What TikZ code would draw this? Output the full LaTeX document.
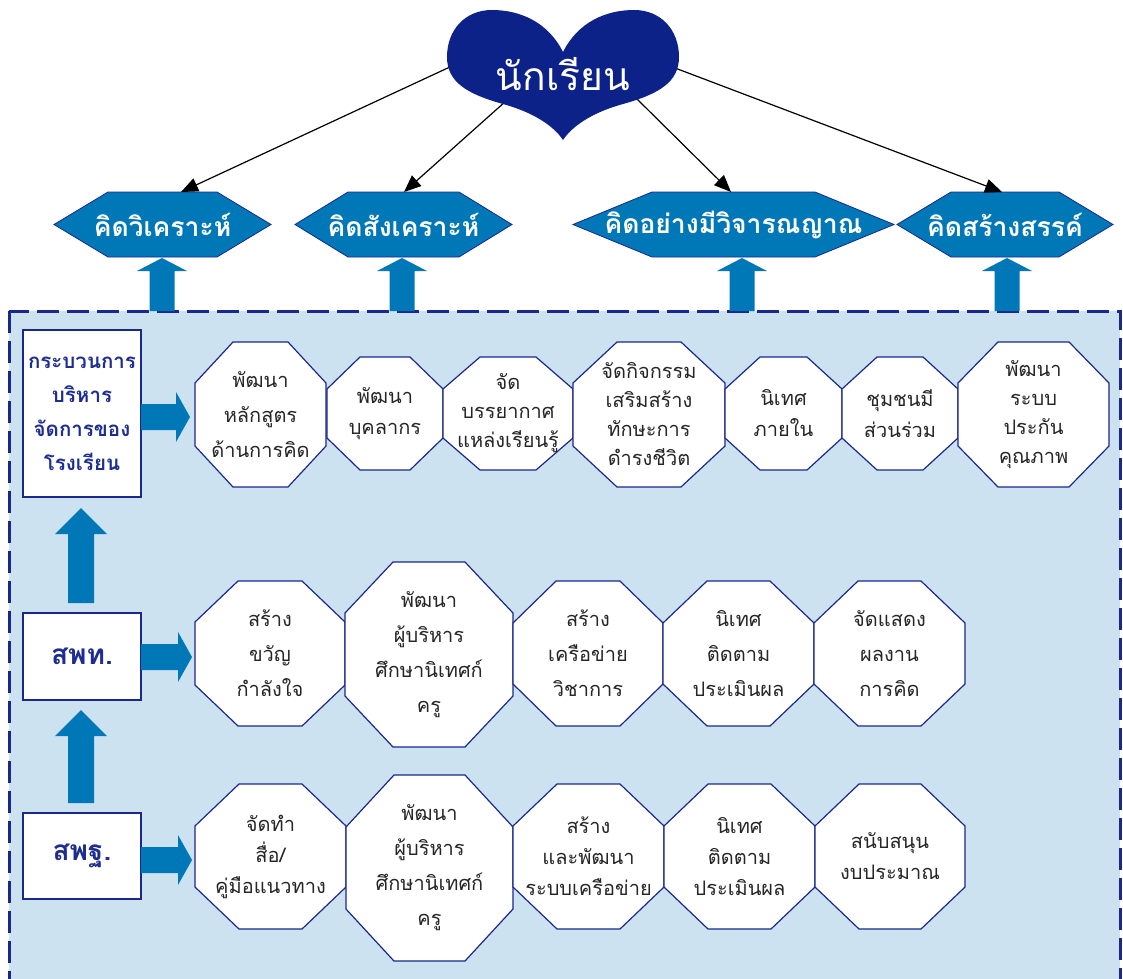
\documentclass[tikz,border=0pt]{standalone}
\usepackage{fontspec}
\newfontfamily\thai[Script=Thai]{Loma}
\usetikzlibrary{arrows.meta}
\definecolor{heartnavy}{RGB}{12,34,136}
\definecolor{hexblue}{RGB}{0,119,182}
\definecolor{panel}{RGB}{205,226,240}
\definecolor{navy}{RGB}{26,40,140}
\definecolor{boxtext}{RGB}{30,45,145}
\tikzset{
  octbox/.style={draw=navy, line width=1.2pt, fill=white},
  octtext/.style={font=\thai\fontsize{20}{31}\selectfont, align=center, text=black!85, inner sep=0pt},
  octtextiv/.style={font=\thai\fontsize{20}{29}\selectfont, align=center, text=black!85, inner sep=0pt},
  octtextw/.style={font=\thai\fontsize{20}{35}\selectfont, align=center, text=black!85, inner sep=0pt},
  hexbox/.style={draw=navy, line width=0.8pt, fill=hexblue},
  hextext/.style={font=\thai\bfseries\fontsize{26.5}{30}\selectfont, text=white, inner sep=0pt},
  lbox/.style={draw=navy, line width=1.2pt, fill=white, inner sep=0pt, align=center, text=boxtext},
  fat/.style={fill=hexblue},
  link/.style={draw=black, line width=1.2pt, -{Triangle[length=17pt,width=14pt]}},
  panelbox/.style={fill=panel, draw=navy, line width=3pt, dash pattern=on 22pt off 8pt},
}
\newcommand\octa[9]{%
  \draw[octbox] (#2+#6,#4) -- (#3-#6,#4) -- (#3,#4+#7) -- (#3,#5-#7) -- (#3-#6,#5) -- (#2+#6,#5) -- (#2,#5-#7) -- (#2,#4+#7) -- cycle;
  \node[#8] (#1) at ({(#2+#3)/2},{(#4+#5)/2}) {#9};}
\newcommand\hexa[5]{%
  \draw[hexbox] (#2,224.5) -- (#2+#4,192) -- (#3-#4,192) -- (#3,224.5) -- (#3-#4,257) -- (#2+#4,257) -- cycle;
  \node[hextext] (#1) at ({(#2+#3)/2},224.5) {#5};}
\newcommand\fatup[6]{%
  \fill[fat] (#1-#6,#3) -- (#1-#6,#2+#4) -- (#1-#5,#2+#4) -- (#1,#2) -- (#1+#5,#2+#4) -- (#1+#6,#2+#4) -- (#1+#6,#3) -- cycle;}
\newcommand\fatright[3]{%
  \fill[fat] (#1,#3-13) -- (#2-14,#3-13) -- (#2-14,#3-25) -- (#2,#3) -- (#2-14,#3+25) -- (#2-14,#3+13) -- (#1,#3+13) -- cycle;}
\begin{document}
\begin{tikzpicture}[x=1pt,y=-1pt]
\useasboundingbox (0,0) rectangle (1123,978);
\begin{scope}
  \clip (0,0) rectangle (1123,978);
  \path[panelbox] (9,311) rectangle (1120,1010);
\end{scope}
% up arrows to thinking hexagons
\fatup{162}{258}{311}{13}{25}{12.5}
\fatup{402}{258}{311}{13}{25}{12.5}
\fatup{742}{258}{311}{13}{25}{12.5}
\fatup{1007}{258}{311}{13}{25}{12.5}
% hexagons
\hexa{k1}{54}{271}{54}{คิดวิเคราะห์}
\hexa{k2}{295}{512}{53}{คิดสังเคราะห์}
\hexa{k3}{573}{894}{79}{คิดอย่างมีวิจารณญาณ}
\hexa{k4}{897}{1113}{54}{คิดสร้างสรรค์}
% connectors from the heart
\coordinate (h1) at (452,66);
\coordinate (h2) at (506,101);
\coordinate (h3) at (637,99);
\coordinate (h4) at (675,68);
\coordinate (t1) at (181,192);
\coordinate (t2) at (404,192);
\coordinate (t3) at (731,192);
\coordinate (t4) at (1002,192);
\draw[link] (h1) -- (t1);
\draw[link] (h2) -- (t2);
\draw[link] (h3) -- (t3);
\draw[link] (h4) -- (t4);
% heart
\fill[heartnavy] (563,52) .. controls (548,22) and (520,10) .. (492,10)
  .. controls (465,10) and (447,30) .. (447,57)
  .. controls (447,82) and (467,94) .. (503,104)
  .. controls (532,112) and (553,125) .. (563,140)
  .. controls (573,125) and (594,112) .. (623,104)
  .. controls (659,94) and (679,82) .. (679,57)
  .. controls (679,30) and (661,10) .. (634,10)
  .. controls (606,10) and (578,22) .. (563,52) -- cycle;
\node[font=\thai\fontsize{39}{44}\selectfont, text=white, inner sep=0pt] (heart) at (563,74) {นักเรียน};
% left boxes
\node[lbox, minimum width=118pt, minimum height=167pt, font=\thai\bfseries\fontsize{20.5}{34}\selectfont] (b1) at (82,413.5) {กระบวนการ\\บริหาร\\จัดการของ\\โรงเรียน};
\node[lbox, minimum width=118pt, minimum height=87pt, font=\thai\bfseries\fontsize{28}{30}\selectfont] (b2) at (82,656.5) {สพท.};
\node[lbox, minimum width=118pt, minimum height=86pt, font=\thai\bfseries\fontsize{28}{30}\selectfont] (b3) at (82,856) {สพฐ.};
\fatup{81}{508}{603}{26}{26}{13}
\fatup{81}{710}{803}{26}{26}{13}
\fatright{141}{190}{417}
\fatright{141}{192}{657}
\fatright{141}{192}{860}
% row 1
\octa{o11}{195}{326}{342}{487}{38}{41}{octtextw}{พัฒนา\\หลักสูตร\\ด้านการคิด}
\octa{o12}{327}{443}{357}{470}{33}{32}{octtext}{พัฒนา\\บุคลากร}
\octa{o13}{443}{573}{357}{470}{37}{32}{octtextiv}{จัด\\บรรยากาศ\\แหล่งเรียนรู้}
\octa{o14}{573}{725}{342}{487}{44}{41}{octtextiv}{จัดกิจกรรม\\เสริมสร้าง\\ทักษะการ\\ดำรงชีวิต}
\octa{o15}{725}{842}{357}{470}{35}{32}{octtext}{นิเทศ\\ภายใน}
\octa{o16}{842}{958}{357}{470}{35}{32}{octtext}{ชุมชนมี\\ส่วนร่วม}
\octa{o17}{958}{1109}{342}{487}{40}{41}{octtextiv}{พัฒนา\\ระบบ\\ประกัน\\คุณภาพ}
% row 2
\octa{o21}{195}{345}{581}{726}{43}{41}{octtextw}{สร้าง\\ขวัญ\\กำลังใจ}
\octa{o22}{345}{513}{562}{747}{48}{51}{octtextw}{พัฒนา\\ผู้บริหาร\\ศึกษานิเทศก์\\ครู}
\octa{o23}{513}{663}{581}{726}{43}{42}{octtextw}{สร้าง\\เครือข่าย\\วิชาการ}
\octa{o24}{663}{814}{581}{726}{44}{42}{octtextw}{นิเทศ\\ติดตาม\\ประเมินผล}
\octa{o25}{814}{965}{581}{726}{44}{42}{octtextw}{จัดแสดง\\ผลงาน\\การคิด}
% row 3
\octa{o31}{195}{346}{784}{929}{44}{42}{octtext}{จัดทำ\\สื่อ/\\คู่มือแนวทาง}
\octa{o32}{346}{513}{775}{961}{48}{52}{octtextw}{พัฒนา\\ผู้บริหาร\\ศึกษานิเทศก์\\ครู}
\octa{o33}{513}{664}{784}{929}{44}{42}{octtext}{สร้าง\\และพัฒนา\\ระบบเครือข่าย}
\octa{o34}{664}{815}{784}{929}{44}{42}{octtext}{นิเทศ\\ติดตาม\\ประเมินผล}
\octa{o35}{815}{965}{784}{929}{44}{42}{octtext}{สนับสนุน\\งบประมาณ}
\end{tikzpicture}
\end{document}
